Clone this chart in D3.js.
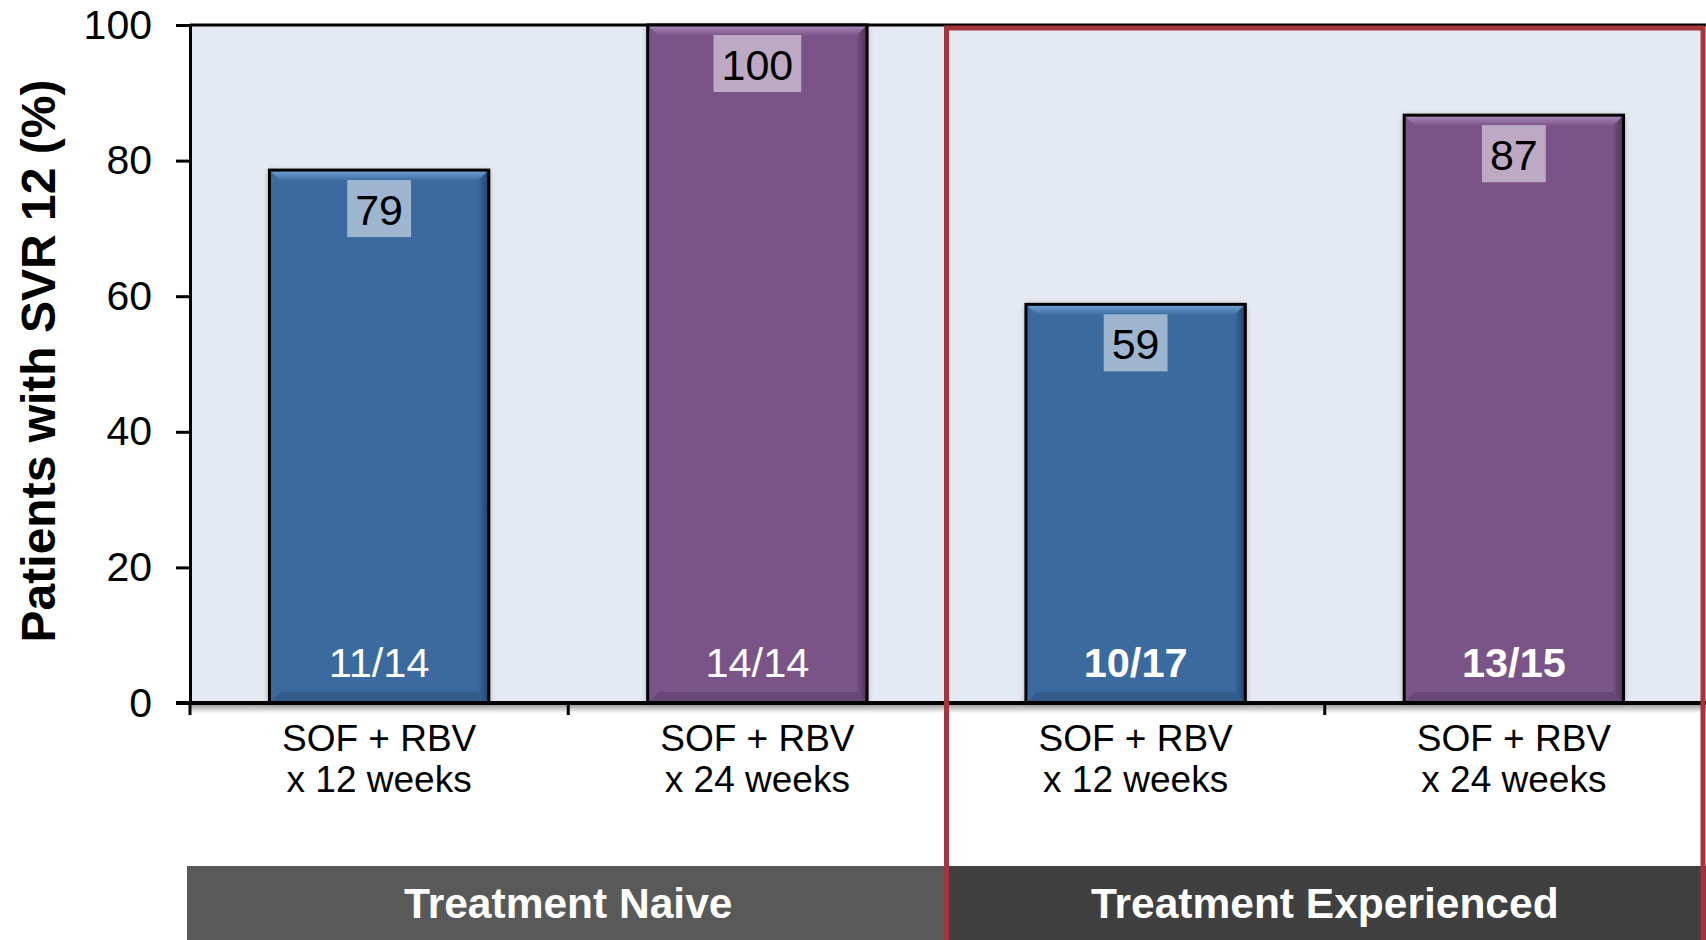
<!DOCTYPE html>
<html>
<head>
<meta charset="utf-8">
<script src="https://cdn.jsdelivr.net/npm/d3@7"></script>
<style>
  body { margin: 0; background: #fff; }
  svg { display: block; font-family: "Liberation Sans", Arial, sans-serif; }
</style>
</head>
<body>
<script>

//Chart data (bar heights are the exact n/N percentages, labels rounded)
var categories = ["c1", "c2", "c3", "c4"];
var labelLine1 = ["SOF + RBV", "SOF + RBV", "SOF + RBV", "SOF + RBV"];
var labelLine2 = ["x 12 weeks", "x 24 weeks", "x 12 weeks", "x 24 weeks"];
var values = [78.6, 100, 58.8, 86.7];
var fractions = ["11/14", "14/14", "10/17", "13/15"];
var fractionBold = [false, false, true, true];
var duration = ["12", "24", "12", "24"];
var groups = ["Treatment Naive", "Treatment Experienced"];
var groupMembers = [["c1", "c2"], ["c3", "c4"]];
var yTicks = [0, 20, 40, 60, 80, 100];

var width = 1706,
    height = 940;

var plotLeft = 190, plotRight = 1703, plotTop = 25, plotBottom = 703;

var svg = d3.select("body").append("svg")
    .attr("width", width)
    .attr("height", height);

var x = d3.scaleBand()
    .domain(categories)
    .range([plotLeft, plotRight])
    .paddingInner(0.42)
    .paddingOuter(0.21);

var band = d3.scaleBand().domain(categories).range([plotLeft, plotRight]);

var y = d3.scaleLinear()
    .domain([0, 100])
    .range([plotBottom, plotTop]);

var colors = {
  "12": {base: "#3a6b9f", light: "#74a4d8", dark: "#21416a"},
  "24": {base: "#7a5387", light: "#ad8dc0", dark: "#4a3155"}
};

var defs = svg.append("defs");

defs.append("filter").attr("id", "shadow")
    .attr("x", "-10%").attr("y", "-10%").attr("width", "120%").attr("height", "120%")
  .append("feDropShadow")
    .attr("dx", 0).attr("dy", 1).attr("stdDeviation", 3)
    .attr("flood-color", "#000").attr("flood-opacity", 0.35);

var axisShade = defs.append("linearGradient").attr("id", "axisShade")
    .attr("x1", 0).attr("x2", 0).attr("y1", 0).attr("y2", 1);
axisShade.append("stop").attr("offset", "0%").attr("stop-color", "#777");
axisShade.append("stop").attr("offset", "100%").attr("stop-color", "#fff");

// bevel gradients
Object.keys(colors).forEach(function(k) {
  var c = colors[k];
  var top = defs.append("linearGradient").attr("id", "top" + k)
      .attr("x1", 0).attr("x2", 0).attr("y1", 0).attr("y2", 1);
  top.append("stop").attr("offset", "0%").attr("stop-color", c.light);
  top.append("stop").attr("offset", "100%").attr("stop-color", c.base);
  var right = defs.append("linearGradient").attr("id", "right" + k)
      .attr("x1", 0).attr("x2", 1).attr("y1", 0).attr("y2", 0);
  right.append("stop").attr("offset", "0%").attr("stop-color", c.base);
  right.append("stop").attr("offset", "100%").attr("stop-color", c.dark);
});

// plot background
svg.append("rect")
    .attr("x", plotLeft)
    .attr("y", plotTop)
    .attr("width", width - plotLeft)
    .attr("height", plotBottom - plotTop)
    .attr("fill", "#e5e9f2");

// top border of plot
svg.append("line")
    .attr("x1", plotLeft).attr("x2", width)
    .attr("y1", plotTop).attr("y2", plotTop)
    .attr("stroke", "#000").attr("stroke-width", 3);

// bars
var bars = svg.selectAll("g.bar")
    .data(categories)
    .enter().append("g")
    .attr("class", "bar");

bars.each(function(d, i) {
  var g = d3.select(this);
  var c = colors[duration[i]];
  var x0 = x(d), x1 = x(d) + x.bandwidth();
  var y0 = y(values[i]), y1 = y(0);
  var b = 11;

  g.append("rect")
      .attr("x", x0).attr("y", y0)
      .attr("width", x1 - x0).attr("height", y1 - y0)
      .attr("fill", c.base)
      .attr("filter", "url(#shadow)");

  // bevel top
  g.append("polygon")
      .attr("points", [[x0, y0], [x1, y0], [x1 - b, y0 + b], [x0 + b, y0 + b]].join(" "))
      .attr("fill", "url(#top" + duration[i] + ")");
  // bevel right
  g.append("polygon")
      .attr("points", [[x1, y0], [x1, y1], [x1 - b, y1 - b], [x1 - b, y0 + b]].join(" "))
      .attr("fill", "url(#right" + duration[i] + ")");
  // bevel bottom
  g.append("polygon")
      .attr("points", [[x0, y1], [x1, y1], [x1 - b, y1 - b], [x0 + b, y1 - b]].join(" "))
      .attr("fill", c.dark).attr("opacity", 0.35);

  g.append("rect")
      .attr("x", x0).attr("y", y0)
      .attr("width", x1 - x0).attr("height", y1 - y0)
      .attr("fill", "none")
      .attr("stroke", "#000").attr("stroke-width", 3);

  // value box
  var cx = x0 + (x1 - x0) / 2;
  var txt = g.append("text")
      .attr("x", cx)
      .attr("y", y0 + 10 + 45)
      .attr("text-anchor", "middle")
      .attr("font-size", 43)
      .attr("fill", "#000")
      .text(Math.round(values[i]));
  var w = txt.node().getComputedTextLength() + 16;
  g.insert("rect", "text")
      .attr("x", cx - w / 2)
      .attr("y", y0 + 10)
      .attr("width", w)
      .attr("height", 57)
      .attr("fill", "#fff")
      .attr("opacity", 0.5);

  // n/N inside bar
  g.append("text")
      .attr("x", cx)
      .attr("y", 677)
      .attr("text-anchor", "middle")
      .attr("font-size", 41.5)
      .attr("font-weight", fractionBold[i] ? "bold" : "normal")
      .attr("fill", "#fff")
      .text(fractions[i]);
});

// x axis shade + line
svg.append("rect")
    .attr("x", plotLeft).attr("y", plotBottom + 1)
    .attr("width", width - plotLeft).attr("height", 9)
    .attr("fill", "url(#axisShade)").attr("opacity", 0.8);

svg.append("line")
    .attr("x1", plotLeft - 14).attr("x2", width)
    .attr("y1", plotBottom).attr("y2", plotBottom)
    .attr("stroke", "#000").attr("stroke-width", 4);

// x ticks at category boundaries
svg.selectAll("line.xtick")
    .data(categories)
    .enter().append("line")
    .attr("class", "xtick")
    .attr("x1", function(d) { return band(d); })
    .attr("x2", function(d) { return band(d); })
    .attr("y1", plotBottom)
    .attr("y2", plotBottom + 12)
    .attr("stroke", "#000").attr("stroke-width", 3);

// y axis
var yAxis = d3.axisLeft(y)
    .tickValues(yTicks)
    .tickSize(14)
    .tickPadding(24);

var yg = svg.append("g")
    .attr("transform", "translate(" + plotLeft + ",0)")
    .call(yAxis);
yg.select(".domain").attr("stroke", "#000").attr("stroke-width", 3);
yg.selectAll(".tick line").attr("stroke", "#000").attr("stroke-width", 3);
yg.selectAll(".tick text")
    .attr("font-size", 41)
    .attr("font-family", "Liberation Sans, Arial, sans-serif")
    .attr("fill", "#000");

// y title
svg.append("text")
    .attr("transform", "translate(" + 55 + "," + 361 + ") rotate(-90)")
    .attr("text-anchor", "middle")
    .attr("font-size", 48)
    .attr("font-weight", "bold")
    .text("Patients with SVR 12 (%)");

// category labels
var catLabels = svg.selectAll("text.cat")
    .data(categories)
    .enter().append("text")
    .attr("class", "cat")
    .attr("text-anchor", "middle")
    .attr("font-size", 37)
    .attr("fill", "#000");
catLabels.append("tspan")
    .attr("x", function(d) { return x(d) + x.bandwidth() / 2; })
    .attr("y", 751)
    .text(function(d, i) { return labelLine1[i]; });
catLabels.append("tspan")
    .attr("x", function(d) { return x(d) + x.bandwidth() / 2; })
    .attr("y", 792)
    .text(function(d, i) { return labelLine2[i]; });

// group boxes
var groupColors = ["#595959", "#404040"];
var gb = svg.selectAll("g.group")
    .data(groups)
    .enter().append("g")
    .attr("class", "group");
gb.append("rect")
    .attr("x", function(d, i) { return i === 0 ? plotLeft - 3 : band(groupMembers[i][0]); })
    .attr("y", 866)
    .attr("width", function(d, i) {
      var m = groupMembers[i];
      var left = i === 0 ? plotLeft - 3 : band(m[0]);
      var right = i === groups.length - 1 ? width : band(m[m.length - 1]) + band.bandwidth();
      return right - left;
    })
    .attr("height", height - 866)
    .attr("fill", function(d, i) { return groupColors[i]; });
gb.append("text")
    .attr("x", function(d, i) {
      var m = groupMembers[i];
      return (band(m[0]) + band(m[m.length - 1]) + band.bandwidth()) / 2;
    })
    .attr("y", 918)
    .attr("text-anchor", "middle")
    .attr("font-size", 42.5)
    .attr("font-weight", "bold")
    .attr("fill", "#fff")
    .text(function(d) { return d; });

// highlight frame around treatment experienced
var hx = band(groupMembers[1][0]);
svg.append("rect")
    .attr("x", hx)
    .attr("y", plotTop + 3)
    .attr("width", plotRight - hx)
    .attr("height", height - plotTop)
    .attr("fill", "none")
    .attr("stroke", "#a3363a")
    .attr("stroke-width", 5);

</script>
</body>
</html>
